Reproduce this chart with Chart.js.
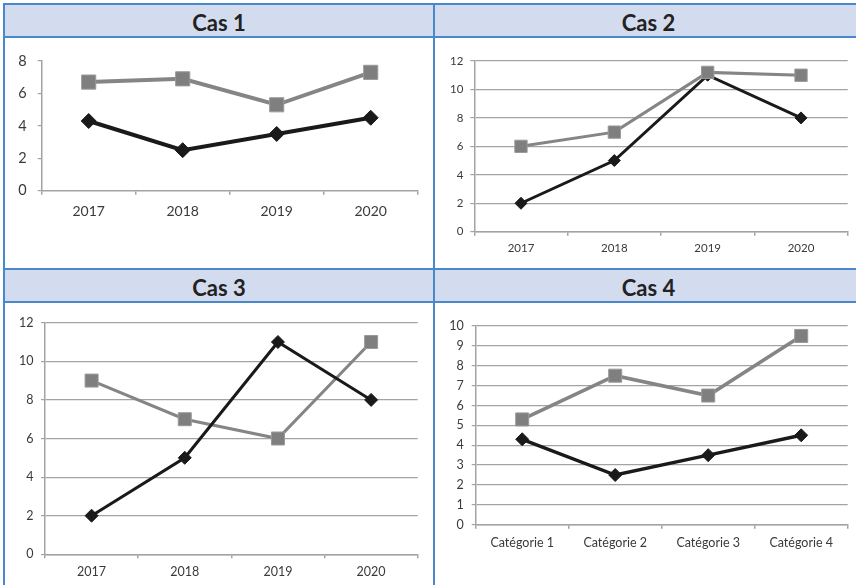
<!DOCTYPE html>
<html>
<head>
<meta charset="utf-8">
<script src="https://cdn.jsdelivr.net/npm/chart.js@4.4.1/dist/chart.umd.min.js"></script>
<style>
  html, body { margin:0; padding:0; background:#fff; }
  body { width:856px; height:585px; overflow:hidden; position:relative; font-family: Lato, "Open Sans", sans-serif; }
  .ln { position:absolute; background:#4a88cc; }
  .hd { position:absolute; background:#d3dcef; color:#222; font-weight:bold; font-size:22px; text-align:center; }
  .cv { position:absolute; }
</style>
</head>
<body>
<div class="hd" style="left:5px;top:5px;width:428px;height:31px;line-height:36px;">Cas 1</div>
<div class="hd" style="left:435px;top:5px;width:427px;height:31px;line-height:36px;">Cas 2</div>
<div class="hd" style="left:5px;top:270px;width:428px;height:31px;line-height:35px;">Cas 3</div>
<div class="hd" style="left:435px;top:270px;width:427px;height:31px;line-height:35px;">Cas 4</div>
<div class="ln" style="left:3px;top:3px;width:860px;height:2px;"></div>
<div class="ln" style="left:3px;top:3px;width:2px;height:590px;"></div>
<div class="ln" style="left:433px;top:3px;width:2px;height:590px;"></div>
<div class="ln" style="left:3px;top:36px;width:860px;height:2px;"></div>
<div class="ln" style="left:3px;top:268px;width:860px;height:2px;"></div>
<div class="ln" style="left:3px;top:301px;width:860px;height:2px;"></div>

<div class="cv" style="left:5px;top:38px;width:428px;height:230px;"><canvas id="c1"></canvas></div>
<div class="cv" style="left:435px;top:38px;width:427px;height:230px;"><canvas id="c2"></canvas></div>
<div class="cv" style="left:5px;top:303px;width:428px;height:300px;"><canvas id="c3"></canvas></div>
<div class="cv" style="left:435px;top:303px;width:427px;height:282px;"><canvas id="c4"></canvas></div>

<script>
// ---- Data ----
const years = ['2017', '2018', '2019', '2020'];
const categories = ['Catégorie 1', 'Catégorie 2', 'Catégorie 3', 'Catégorie 4'];

const cas1Black = [4.3, 2.5, 3.5, 4.5];
const cas1Grey  = [6.7, 6.9, 5.3, 7.3];

const cas2Black = [2, 5, 11, 8];
const cas2Grey  = [6, 7, 11.2, 11];

const cas3Black = [2, 5, 11, 8];
const cas3Grey  = [9, 7, 6, 11];

const cas4Black = [4.3, 2.5, 3.5, 4.5];
const cas4Grey  = [5.3, 7.5, 6.5, 9.5];

const cas1YTicks = [0, 2, 4, 6, 8];
const cas2YTicks = [0, 2, 4, 6, 8, 10, 12];
const cas3YTicks = [0, 2, 4, 6, 8, 10, 12];
const cas4YTicks = [0, 1, 2, 3, 4, 5, 6, 7, 8, 9, 10];

// ---- Styles ----
const BLACK = '#1a1a1a';
const GREY = '#858585';
const AXIS = '#a3a3a3';
const TICKCOL = '#3a3a3a';

function makeChart(id, labels, black, grey, yTicks, cfg) {
  const step = yTicks[1] - yTicks[0];
  new Chart(document.getElementById(id), {
    type: 'line',
    data: {
      labels: labels,
      datasets: [
        { data: grey, showLine: false, pointStyle: 'rect', pointRadius: cfg.sq,
          pointBackgroundColor: '#7f7f7f', pointBorderColor: '#9a9a9a', pointBorderWidth: 1, order: 0 },
        { data: black, borderColor: BLACK, borderWidth: cfg.lw, pointStyle: 'rectRot', pointRadius: cfg.di,
          pointBackgroundColor: BLACK, pointBorderColor: BLACK, pointBorderWidth: 1, tension: 0, order: 1 },
        { data: grey, borderColor: GREY, borderWidth: cfg.lw, pointRadius: 0, tension: 0, order: 2 }
      ]
    },
    options: {
      responsive: true,
      maintainAspectRatio: false,
      animation: false,
      events: [],
      layout: { padding: cfg.pad },
      plugins: { legend: { display: false }, tooltip: { enabled: false } },
      scales: {
        x: {
          offset: true,
          grid: { offset: true, drawOnChartArea: false, drawTicks: true, tickLength: 4, color: AXIS, lineWidth: 1.5 },
          border: { display: true, color: AXIS, width: 1.5 },
          ticks: { color: TICKCOL, font: { family: 'Lato', size: cfg.fx }, padding: cfg.xp, maxRotation: 0, autoSkip: false },
          afterFit: s => { s.height = cfg.xh; }
        },
        y: {
          min: yTicks[0], max: yTicks[yTicks.length - 1],
          afterBuildTicks: s => { s.ticks = yTicks.map(v => ({ value: v })); },
          grid: { drawOnChartArea: cfg.grid, drawTicks: true, tickLength: 4, color: AXIS, lineWidth: 1.2 },
          border: { display: true, color: AXIS, width: 1.5 },
          ticks: { stepSize: step, color: TICKCOL, font: { family: 'Lato', size: cfg.fy }, padding: cfg.yp },
          afterFit: s => { s.width = cfg.yw; }
        }
      }
    }
  });
}

makeChart('c1', years, cas1Black, cas1Grey, cas1YTicks,
  { lw: 4, sq: 10, di: 7.5, fx: 14, fy: 14.5, xp: 8, yp: 11, yw: 36.7, xh: 40, grid: false,
    pad: { left: 0, right: 15.3, top: 23, bottom: 37.3 } });
makeChart('c2', years, cas2Black, cas2Grey, cas2YTicks,
  { lw: 3, sq: 8.7, di: 6, fx: 11.5, fy: 11.5, xp: 6, yp: 7, yw: 39.3, xh: 30, grid: true,
    pad: { left: 0, right: 14.3, top: 23, bottom: 6.3 } });
makeChart('c3', years, cas3Black, cas3Grey, cas3YTicks,
  { lw: 3, sq: 9.2, di: 6.5, fx: 12.5, fy: 12.5, xp: 6.5, yp: 7.5, yw: 40, xh: 30, grid: true,
    pad: { left: 0, right: 15.3, top: 19.7, bottom: 18.7 } });
makeChart('c4', categories, cas4Black, cas4Grey, cas4YTicks,
  { lw: 3.5, sq: 9.2, di: 6.5, fx: 12.5, fy: 12.5, xp: 6.5, yp: 8, yw: 40.7, xh: 30, grid: true,
    pad: { left: 0, right: 14.3, top: 23, bottom: 30.3 } });
</script>
</body>
</html>
